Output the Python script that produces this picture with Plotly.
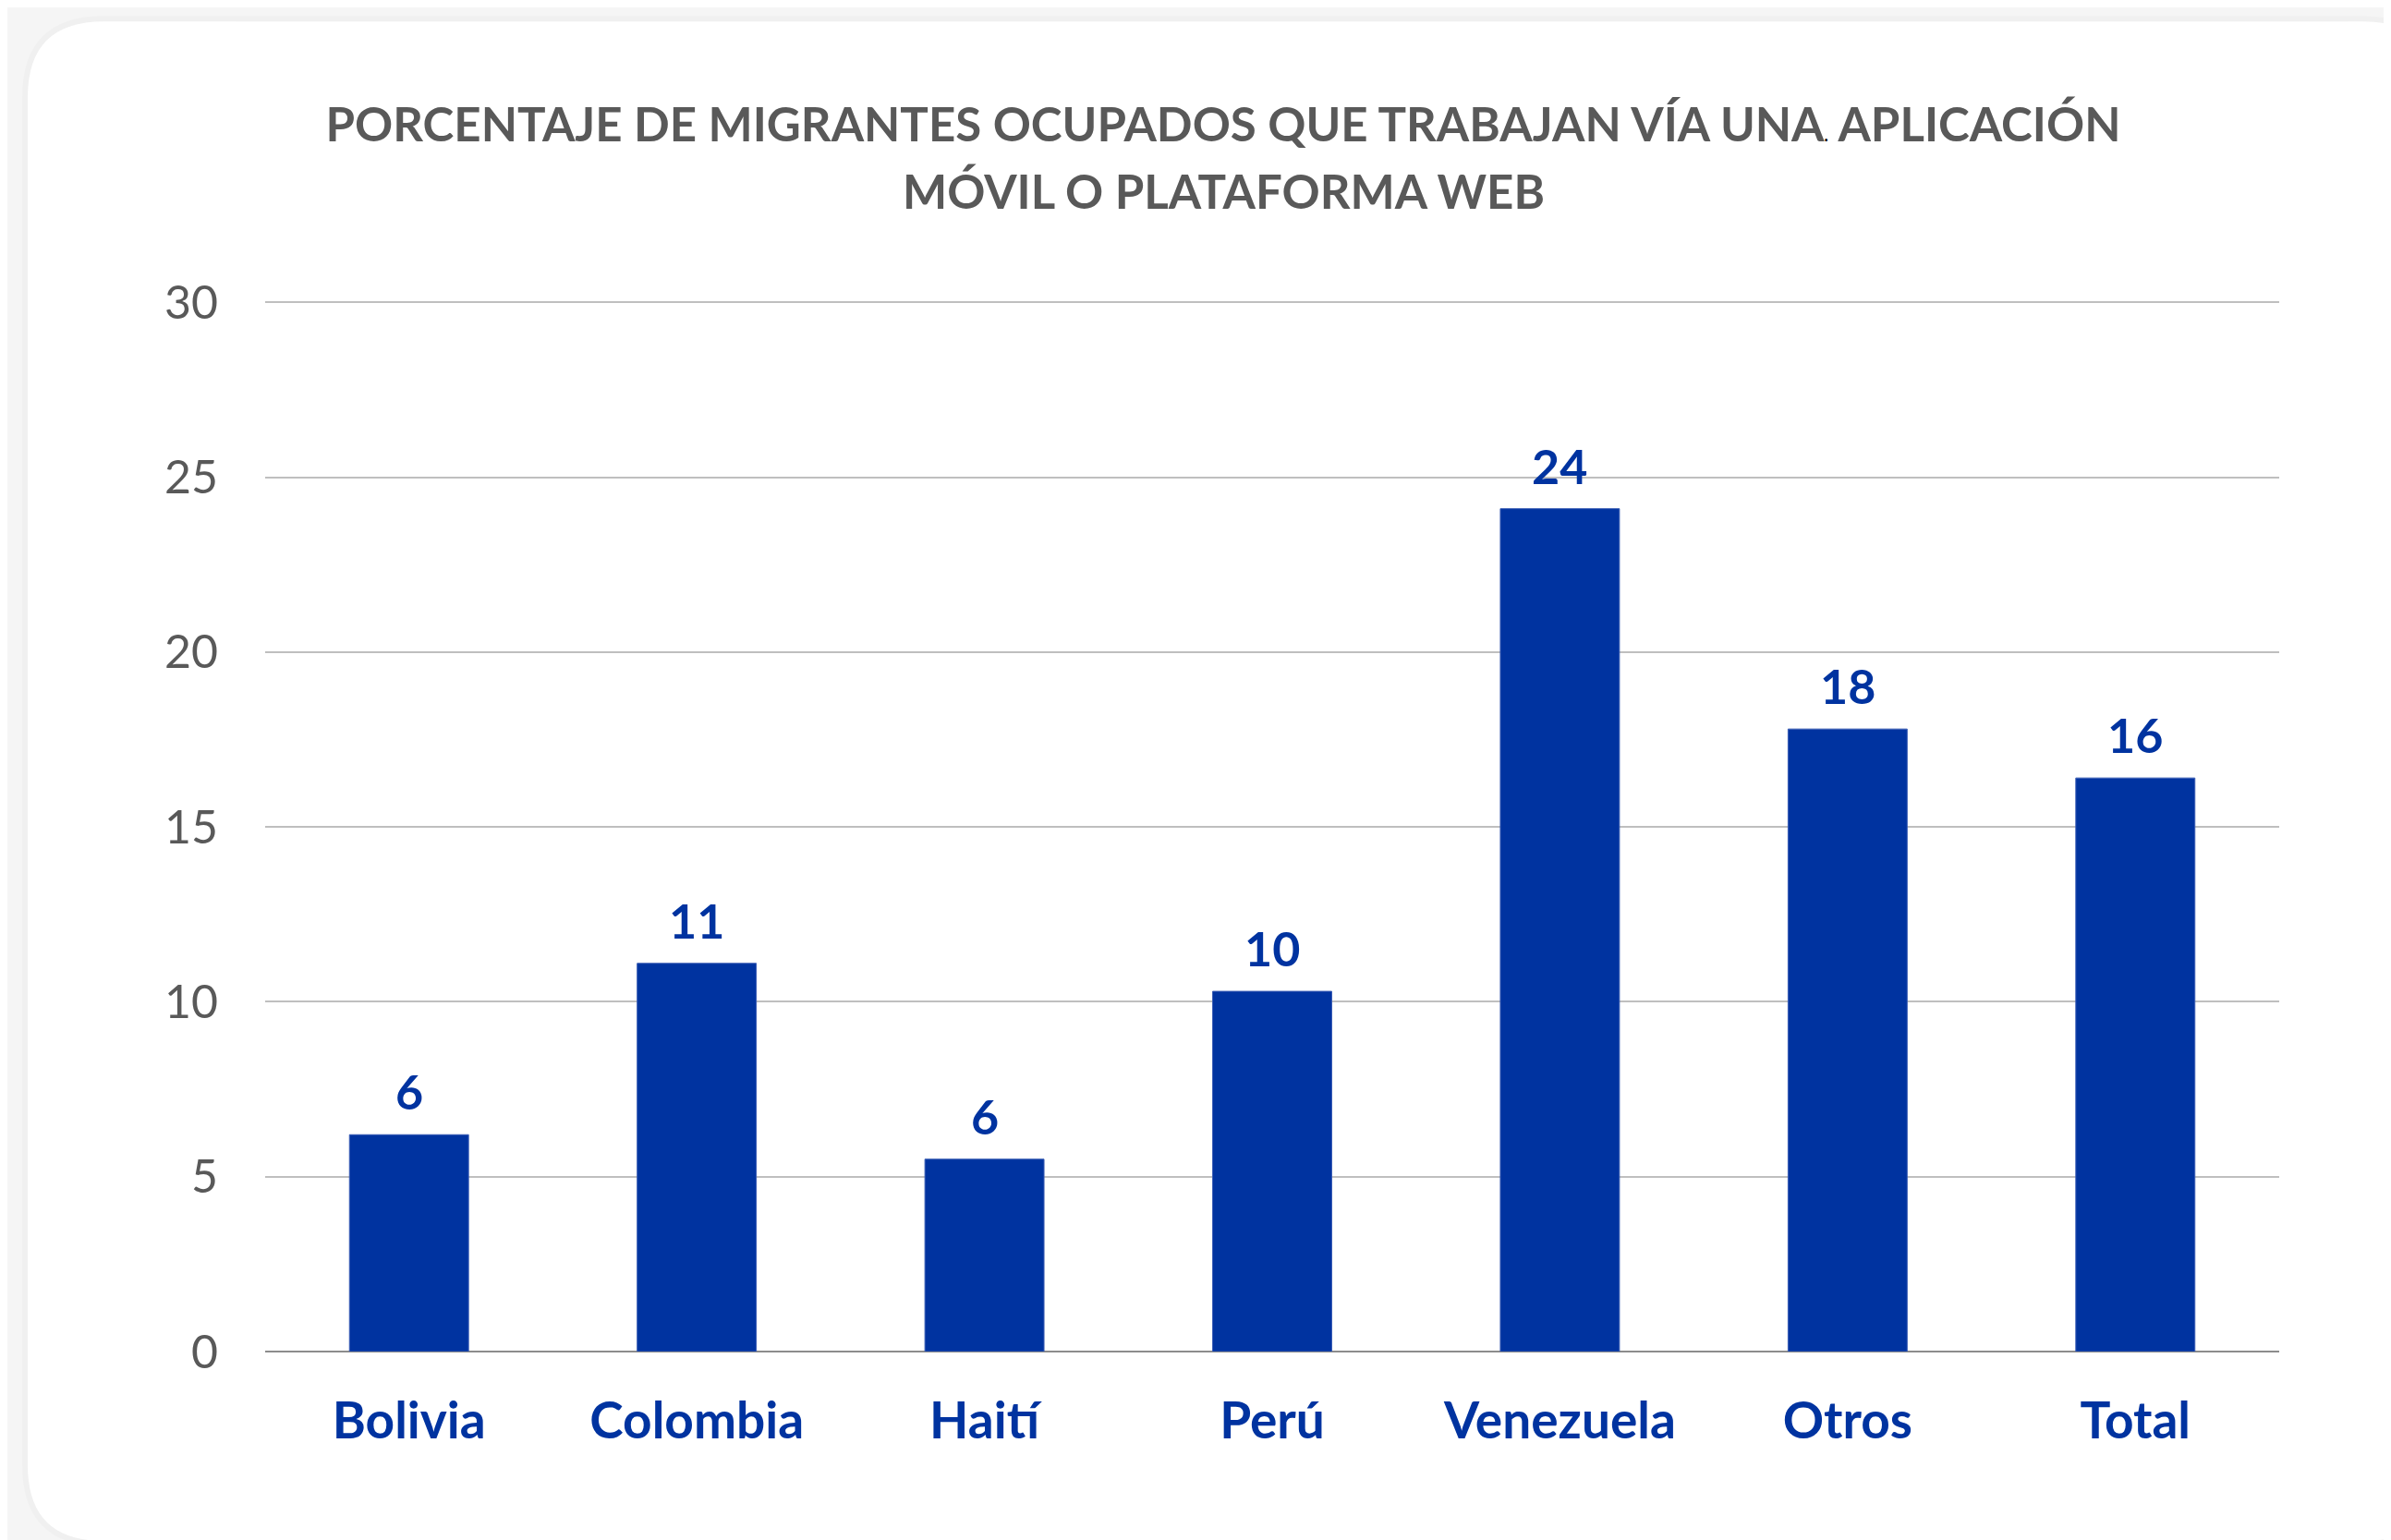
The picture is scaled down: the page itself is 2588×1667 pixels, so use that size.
import plotly.graph_objects as go

# ---- data ----
categories = ["Bolivia", "Colombia", "Haití", "Perú", "Venezuela", "Otros", "Total"]
values = [6.2, 11.1, 5.5, 10.3, 24.1, 17.8, 16.4]
y_ticks = [0, 5, 10, 15, 20, 25, 30]

title_line1 = ("PORCENTAJE DE MIGRANTES OCUPADOS QUE TRABAJAN VÍA UNA"
               "<span style='font-size:18px;color:#000000'>.</span> APLICACIÓN")
title_line2 = "MÓVIL O PLATAFORMA WEB"

# ---- layout geometry (pixels, relative to figure; page adds 8px body margin) ----
OFF = 8
W, H = 2588 - OFF, 1667 - OFF
YMAX = 30.06
px_per_unit = (1463 - 327) / 30.0
L = 287 - OFF
R = (2588 - 2467)
B = 1667 - 1463
T = 327 - OFF - (YMAX - 30) * px_per_unit
PW, PH = W - L - R, H - T - B

BLUE = "#0033A0"
GREY_TXT = "#595959"


def fx(x):
    return (x - OFF - L) / PW


def fy(y):
    return (H - B - (y - OFF)) / PH


def rounded_rect(x0, y0, x1, y1, r):
    pts = [
        f"M {fx(x0 + r)} {fy(y0)}",
        f"L {fx(x1 - r)} {fy(y0)}",
        f"Q {fx(x1)} {fy(y0)} {fx(x1)} {fy(y0 + r)}",
        f"L {fx(x1)} {fy(y1 - r)}",
        f"Q {fx(x1)} {fy(y1)} {fx(x1 - r)} {fy(y1)}",
        f"L {fx(x0 + r)} {fy(y1)}",
        f"Q {fx(x0)} {fy(y1)} {fx(x0)} {fy(y1 - r)}",
        f"L {fx(x0)} {fy(y0 + r)}",
        f"Q {fx(x0)} {fy(y0)} {fx(x0 + r)} {fy(y0)}",
        "Z",
    ]
    return " ".join(pts)


fig = go.Figure()
fig.add_trace(go.Bar(
    x=categories,
    y=values,
    marker=dict(color=BLUE, line=dict(color="#3A5DB5", width=1)),
    hoverinfo="skip",
))

for c, v in zip(categories, values):
    fig.add_annotation(
        x=c, y=v, xref="x", yref="y",
        text=f"{round(v):d}",
        showarrow=False,
        yanchor="bottom",
        yshift=14,
        font=dict(family="Lato", size=52, color=BLUE, weight=700),
    )

fig.add_annotation(
    text=title_line2, showarrow=False,
    xref="paper", yref="paper",
    x=fx(1324), y=fy(206), xanchor="center", yanchor="middle",
    font=dict(family="Lato", size=51, color=GREY_TXT, weight=700),
)

shapes = [
    dict(type="path", xref="paper", yref="paper", layer="below",
         path=rounded_rect(24, 17, 2646, 1674, 88),
         fillcolor="rgba(0,0,0,0.02)", line=dict(width=0)),
    dict(type="path", xref="paper", yref="paper", layer="below",
         path=rounded_rect(30, 23, 2640, 1668, 82),
         fillcolor="#FFFFFF", line=dict(width=0)),
]

fig.update_layout(
    width=W, height=H,
    margin=dict(l=L, r=R, t=T, b=B, pad=0),
    paper_bgcolor="#F5F5F5",
    plot_bgcolor="rgba(0,0,0,0)",
    bargap=0.586,
    showlegend=False,
    shapes=shapes,
    title=dict(
        text=title_line1,
        x=(1324 - OFF) / W, xref="container", xanchor="center",
        y=1 - (135 - OFF) / H, yref="container", yanchor="middle",
        font=dict(family="Lato", size=51, color=GREY_TXT, weight=700),
    ),
)

fig.update_xaxes(
    showgrid=False,
    showline=False,
    ticks="",
    tickfont=dict(family="Lato", size=55, color=BLUE, weight=700),
    ticklabelstandoff=38,
)

fig.update_yaxes(
    range=[0, YMAX],
    tickvals=y_ticks,
    showgrid=True,
    gridcolor="#BFBFBF",
    gridwidth=2,
    zeroline=True,
    zerolinecolor="#8C8C8C",
    zerolinewidth=2,
    showline=False,
    ticks="",
    tickfont=dict(family="Lato", size=50, color=GREY_TXT),
    ticklabelstandoff=50,
)

fig.write_html("out.html")
